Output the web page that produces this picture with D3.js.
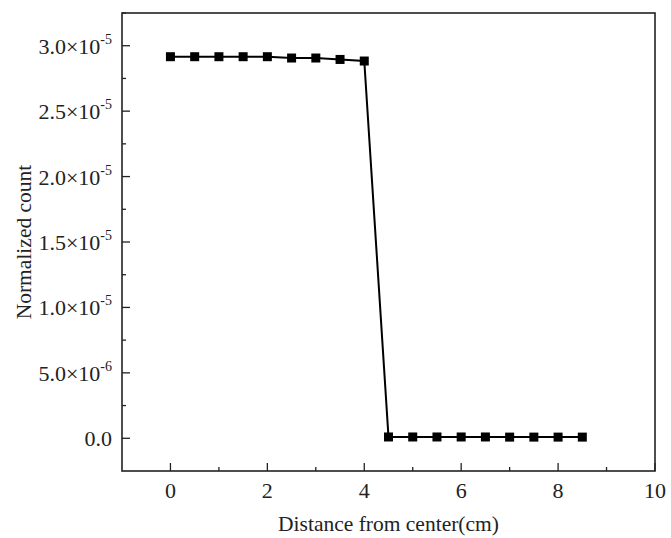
<!DOCTYPE html>
<html>
<head>
<meta charset="utf-8">
<script src="https://cdn.jsdelivr.net/npm/d3@7"></script>
<style>
  body { margin: 0; background: #fff; }
  text { font-family: "Liberation Serif", "Times New Roman", serif; fill: #222; }
</style>
</head>
<body>
<div id="chart"></div>
<script>
// data
const distance = [0, 0.5, 1, 1.5, 2, 2.5, 3, 3.5, 4, 4.5, 5, 5.5, 6, 6.5, 7, 7.5, 8, 8.5];
const normCount = [2.916e-5, 2.916e-5, 2.916e-5, 2.916e-5, 2.916e-5, 2.906e-5, 2.906e-5, 2.895e-5, 2.883e-5,
                   1.0e-7, 1.0e-7, 1.0e-7, 1.0e-7, 1.0e-7, 0.9e-7, 0.9e-7, 0.9e-7, 0.9e-7];
const xTicks = [0, 2, 4, 6, 8, 10];
const yTicks = [0, 5e-6, 1e-5, 1.5e-5, 2e-5, 2.5e-5, 3e-5];
const yTickLabels = [["0.0", ""], ["5.0\u00d710", "-6"], ["1.0\u00d710", "-5"], ["1.5\u00d710", "-5"],
                     ["2.0\u00d710", "-5"], ["2.5\u00d710", "-5"], ["3.0\u00d710", "-5"]];

const W = 671, H = 538;
const margin = {top: 13, right: 16, bottom: 67, left: 122};
const width = W - margin.left - margin.right;
const height = H - margin.top - margin.bottom;

const svg = d3.select("#chart").append("svg")
    .attr("width", W)
    .attr("height", H);

const g = svg.append("g")
    .attr("transform", "translate(" + margin.left + "," + margin.top + ")");

const x = d3.scaleLinear().domain([-1, 10]).range([0, width]);
const y = d3.scaleLinear().domain([-2.5e-6, 3.25e-5]).range([height, 0]);

// minor ticks
const xMinor = d3.range(1, 10, 2);
const yMinor = d3.range(0, 7).map(i => 2.5e-6 + i * 5e-6);

g.selectAll(".xminor").data(xMinor).enter().append("line")
    .attr("x1", d => x(d)).attr("x2", d => x(d))
    .attr("y1", height).attr("y2", height - 4)
    .attr("stroke", "#222").attr("stroke-width", 1.3);
g.selectAll(".xmajor").data(xTicks).enter().append("line")
    .attr("x1", d => x(d)).attr("x2", d => x(d))
    .attr("y1", height).attr("y2", height - 8)
    .attr("stroke", "#222").attr("stroke-width", 1.3);
g.selectAll(".yminor").data(yMinor).enter().append("line")
    .attr("x1", 0).attr("x2", 4)
    .attr("y1", d => y(d)).attr("y2", d => y(d))
    .attr("stroke", "#222").attr("stroke-width", 1.3);
g.selectAll(".ymajor").data(yTicks).enter().append("line")
    .attr("x1", 0).attr("x2", 8)
    .attr("y1", d => y(d)).attr("y2", d => y(d))
    .attr("stroke", "#222").attr("stroke-width", 1.3);

// tick labels
g.selectAll(".xlab").data(xTicks).enter().append("text")
    .attr("x", d => x(d))
    .attr("y", height + 27)
    .attr("text-anchor", "middle")
    .style("font-size", "22px")
    .text(d => d);

const yl = g.selectAll(".ylab").data(yTicks).enter().append("text")
    .attr("x", -10)
    .attr("y", d => y(d) + 8)
    .attr("text-anchor", "end")
    .style("font-size", "22px");
yl.append("tspan").text((d, i) => yTickLabels[i][0]);
yl.append("tspan")
    .attr("dy", -10)
    .style("font-size", "14px")
    .text((d, i) => yTickLabels[i][1]);

// frame
g.append("rect")
    .attr("x", 0).attr("y", 0)
    .attr("width", width).attr("height", height)
    .attr("fill", "none")
    .attr("stroke", "#222")
    .attr("stroke-width", 1.6);

// line + markers
const line = d3.line()
    .x((d, i) => x(distance[i]))
    .y(d => y(d));

g.append("path")
    .datum(normCount)
    .attr("d", line)
    .attr("fill", "none")
    .attr("stroke", "#000")
    .attr("stroke-width", 2);

g.selectAll(".pt").data(normCount).enter().append("rect")
    .attr("x", (d, i) => x(distance[i]) - 4.5)
    .attr("y", d => y(d) - 4.5)
    .attr("width", 9).attr("height", 9)
    .attr("fill", "#000");

// axis titles
svg.append("text")
    .attr("x", margin.left + width / 2)
    .attr("y", 531)
    .attr("text-anchor", "middle")
    .style("font-size", "21.5px")
    .text("Distance from center(cm)");

svg.append("text")
    .attr("transform", "translate(31," + (margin.top + height / 2) + ") rotate(-90)")
    .attr("text-anchor", "middle")
    .style("font-size", "21.5px")
    .text("Normalized count");
</script>
</body>
</html>
